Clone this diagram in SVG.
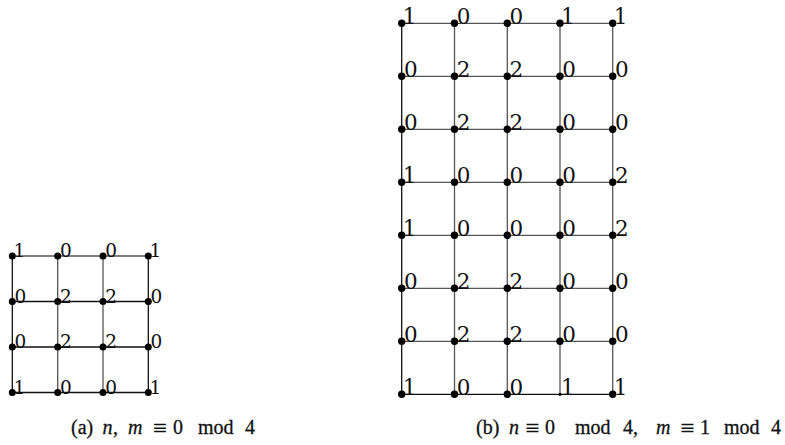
<svg xmlns="http://www.w3.org/2000/svg" width="785" height="445" viewBox="0 0 785 445">
<style>
.e{stroke:#555;stroke-width:1.3;fill:none}
.d{stroke:#111}
.n circle{fill:#000}
.n text{font-family:"DejaVu Serif","Liberation Serif",serif;font-size:18.5px;fill:#111}
#grid-b .n text{font-size:21.5px}
.c{font-family:"Liberation Serif","Times New Roman",serif;font-size:20px;fill:#111;stroke:#111;stroke-width:0.3}
.i{font-style:italic}
.q{font-family:"DejaVu Serif",serif;font-size:19px;stroke-width:0}
</style>
<g id="connectors">
<g class="e">
<line x1="12.3" y1="256" x2="148.3" y2="256"/>
<line class="d" x1="12.3" y1="301.5" x2="148.3" y2="301.5"/>
<line class="d" x1="12.3" y1="347" x2="148.3" y2="347"/>
<line class="d" x1="12.3" y1="392.5" x2="148.3" y2="392.5"/>
<line class="d" x1="12.3" y1="256" x2="12.3" y2="392.5"/>
<line x1="57.7" y1="256" x2="57.7" y2="392.5"/>
<line x1="103" y1="256" x2="103" y2="392.5"/>
<line class="d" x1="148.3" y1="256" x2="148.3" y2="392.5"/>
<line x1="401.7" y1="23.3" x2="612.7" y2="23.3"/>
<line x1="401.7" y1="76.3" x2="612.7" y2="76.3"/>
<line x1="401.7" y1="129.3" x2="612.7" y2="129.3"/>
<line x1="401.7" y1="182.3" x2="612.7" y2="182.3"/>
<line x1="401.7" y1="235.3" x2="612.7" y2="235.3"/>
<line x1="401.7" y1="288.3" x2="612.7" y2="288.3"/>
<line x1="401.7" y1="341.3" x2="612.7" y2="341.3"/>
<line class="d" x1="401.7" y1="394.3" x2="612.7" y2="394.3"/>
<line class="d" x1="401.7" y1="23.3" x2="401.7" y2="394.3"/>
<line x1="454.5" y1="23.3" x2="454.5" y2="394.3"/>
<line x1="507.3" y1="23.3" x2="507.3" y2="394.3"/>
<line x1="560" y1="23.3" x2="560" y2="394.3"/>
<line x1="612.7" y1="23.3" x2="612.7" y2="394.3"/>
</g>
</g>
<g id="grid-a">
<g id="a00" class="n"><circle cx="12.3" cy="256" r="3.5"/><text x="13.5" y="257">1</text></g>
<g id="a01" class="n"><circle cx="57.7" cy="256" r="3.5"/><text x="60" y="257">0</text></g>
<g id="a02" class="n"><circle cx="103" cy="256" r="3.5"/><text x="105.3" y="257">0</text></g>
<g id="a03" class="n"><circle cx="148.3" cy="256" r="3.5"/><text x="149.5" y="257">1</text></g>
<g id="a10" class="n"><circle cx="12.3" cy="301.5" r="3.5"/><text x="14.6" y="302.5">0</text></g>
<g id="a11" class="n"><circle cx="57.7" cy="301.5" r="3.5"/><text x="60" y="302.5">2</text></g>
<g id="a12" class="n"><circle cx="103" cy="301.5" r="3.5"/><text x="105.3" y="302.5">2</text></g>
<g id="a13" class="n"><circle cx="148.3" cy="301.5" r="3.5"/><text x="150.6" y="302.5">0</text></g>
<g id="a20" class="n"><circle cx="12.3" cy="347" r="3.5"/><text x="14.6" y="348">0</text></g>
<g id="a21" class="n"><circle cx="57.7" cy="347" r="3.5"/><text x="60" y="348">2</text></g>
<g id="a22" class="n"><circle cx="103" cy="347" r="3.5"/><text x="105.3" y="348">2</text></g>
<g id="a23" class="n"><circle cx="148.3" cy="347" r="3.5"/><text x="150.6" y="348">0</text></g>
<g id="a30" class="n"><circle cx="12.3" cy="392.5" r="3.5"/><text x="13.5" y="393.5">1</text></g>
<g id="a31" class="n"><circle cx="57.7" cy="392.5" r="3.5"/><text x="60" y="393.5">0</text></g>
<g id="a32" class="n"><circle cx="103" cy="392.5" r="3.5"/><text x="105.3" y="393.5">0</text></g>
<g id="a33" class="n"><circle cx="148.3" cy="392.5" r="3.5"/><text x="149.5" y="393.5">1</text></g>
</g>
<g id="grid-b">
<g id="b00" class="n"><circle cx="401.7" cy="23.3" r="3.7"/><text x="402.8" y="24">1</text></g>
<g id="b01" class="n"><circle cx="454.5" cy="23.3" r="3.7"/><text x="456.8" y="24">0</text></g>
<g id="b02" class="n"><circle cx="507.3" cy="23.3" r="3.7"/><text x="509.6" y="24">0</text></g>
<g id="b03" class="n"><circle cx="560" cy="23.3" r="3.7"/><text x="561.1" y="24">1</text></g>
<g id="b04" class="n"><circle cx="612.7" cy="23.3" r="3.7"/><text x="613.8" y="24">1</text></g>
<g id="b10" class="n"><circle cx="401.7" cy="76.3" r="3.7"/><text x="404" y="77">0</text></g>
<g id="b11" class="n"><circle cx="454.5" cy="76.3" r="3.7"/><text x="456.8" y="77">2</text></g>
<g id="b12" class="n"><circle cx="507.3" cy="76.3" r="3.7"/><text x="509.6" y="77">2</text></g>
<g id="b13" class="n"><circle cx="560" cy="76.3" r="3.7"/><text x="562.3" y="77">0</text></g>
<g id="b14" class="n"><circle cx="612.7" cy="76.3" r="3.7"/><text x="615" y="77">0</text></g>
<g id="b20" class="n"><circle cx="401.7" cy="129.3" r="3.7"/><text x="404" y="130">0</text></g>
<g id="b21" class="n"><circle cx="454.5" cy="129.3" r="3.7"/><text x="456.8" y="130">2</text></g>
<g id="b22" class="n"><circle cx="507.3" cy="129.3" r="3.7"/><text x="509.6" y="130">2</text></g>
<g id="b23" class="n"><circle cx="560" cy="129.3" r="3.7"/><text x="562.3" y="130">0</text></g>
<g id="b24" class="n"><circle cx="612.7" cy="129.3" r="3.7"/><text x="615" y="130">0</text></g>
<g id="b30" class="n"><circle cx="401.7" cy="182.3" r="3.7"/><text x="402.8" y="183">1</text></g>
<g id="b31" class="n"><circle cx="454.5" cy="182.3" r="3.7"/><text x="456.8" y="183">0</text></g>
<g id="b32" class="n"><circle cx="507.3" cy="182.3" r="3.7"/><text x="509.6" y="183">0</text></g>
<g id="b33" class="n"><circle cx="560" cy="182.3" r="3.7"/><text x="562.3" y="183">0</text></g>
<g id="b34" class="n"><circle cx="612.7" cy="182.3" r="3.7"/><text x="615" y="183">2</text></g>
<g id="b40" class="n"><circle cx="401.7" cy="235.3" r="3.7"/><text x="402.8" y="236">1</text></g>
<g id="b41" class="n"><circle cx="454.5" cy="235.3" r="3.7"/><text x="456.8" y="236">0</text></g>
<g id="b42" class="n"><circle cx="507.3" cy="235.3" r="3.7"/><text x="509.6" y="236">0</text></g>
<g id="b43" class="n"><circle cx="560" cy="235.3" r="3.7"/><text x="562.3" y="236">0</text></g>
<g id="b44" class="n"><circle cx="612.7" cy="235.3" r="3.7"/><text x="615" y="236">2</text></g>
<g id="b50" class="n"><circle cx="401.7" cy="288.3" r="3.7"/><text x="404" y="289">0</text></g>
<g id="b51" class="n"><circle cx="454.5" cy="288.3" r="3.7"/><text x="456.8" y="289">2</text></g>
<g id="b52" class="n"><circle cx="507.3" cy="288.3" r="3.7"/><text x="509.6" y="289">2</text></g>
<g id="b53" class="n"><circle cx="560" cy="288.3" r="3.7"/><text x="562.3" y="289">0</text></g>
<g id="b54" class="n"><circle cx="612.7" cy="288.3" r="3.7"/><text x="615" y="289">0</text></g>
<g id="b60" class="n"><circle cx="401.7" cy="341.3" r="3.7"/><text x="404" y="342">0</text></g>
<g id="b61" class="n"><circle cx="454.5" cy="341.3" r="3.7"/><text x="456.8" y="342">2</text></g>
<g id="b62" class="n"><circle cx="507.3" cy="341.3" r="3.7"/><text x="509.6" y="342">2</text></g>
<g id="b63" class="n"><circle cx="560" cy="341.3" r="3.7"/><text x="562.3" y="342">0</text></g>
<g id="b64" class="n"><circle cx="612.7" cy="341.3" r="3.7"/><text x="615" y="342">0</text></g>
<g id="b70" class="n"><circle cx="401.7" cy="394.3" r="3.7"/><text x="402.8" y="395">1</text></g>
<g id="b71" class="n"><circle cx="454.5" cy="394.3" r="3.7"/><text x="456.8" y="395">0</text></g>
<g id="b72" class="n"><circle cx="507.3" cy="394.3" r="3.7"/><text x="509.6" y="395">0</text></g>
<g id="b73" class="n"><circle cx="560" cy="394.3" r="1.6"/><text x="561.1" y="395">1</text></g>
<g id="b74" class="n"><circle cx="612.7" cy="394.3" r="3.7"/><text x="613.8" y="395">1</text></g>
</g>
<g id="caption-a">
<text class="c" x="71" y="434">(a)</text>
<text class="c i" x="102.5" y="434">n</text>
<text class="c" x="113" y="434">,</text>
<text class="c i" x="128" y="434">m</text>
<text class="c q" x="152" y="434">≡</text>
<text class="c" x="173" y="434">0</text>
<text class="c" x="198" y="434">mod</text>
<text class="c" x="245" y="434">4</text>
</g>
<g id="caption-b">
<text class="c" x="476" y="434">(b)</text>
<text class="c i" x="509" y="434">n</text>
<text class="c q" x="524.5" y="434">≡</text>
<text class="c" x="545" y="434">0</text>
<text class="c" x="575" y="434">mod</text>
<text class="c" x="623" y="434">4,</text>
<text class="c i" x="656" y="434">m</text>
<text class="c q" x="679.5" y="434">≡</text>
<text class="c" x="700" y="434">1</text>
<text class="c" x="724" y="434">mod</text>
<text class="c" x="771" y="434">4</text>
</g>
</svg>
